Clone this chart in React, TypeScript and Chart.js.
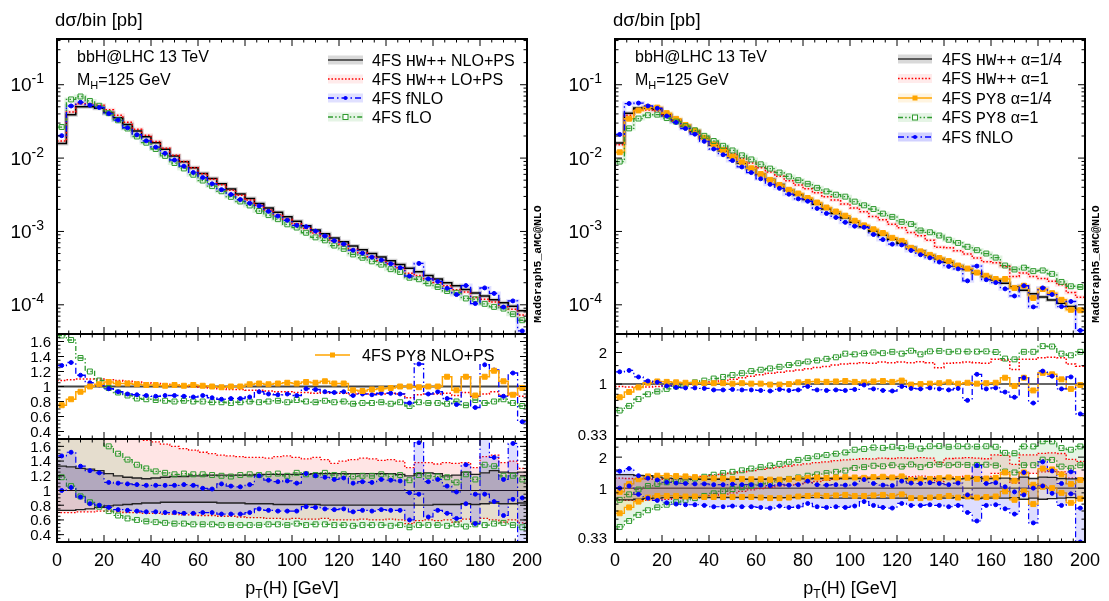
import React, { useEffect, useRef } from "react";
import { Chart, registerables } from "chart.js";
Chart.register(...registerables);

const W = 1109;
const H = 601;
const SANS = '"Liberation Sans", Arial, Helvetica, sans-serif';
const MONO = '"Liberation Mono", "DejaVu Sans Mono", monospace';

// ---------------- categories ----------------
const binLow = [
  0, 4, 8, 12, 16, 20, 24, 28, 32, 36,
  40, 44, 48, 52, 56, 60, 64, 68, 72, 76,
  80, 84, 88, 92, 96, 100, 104, 108, 112, 116,
  120, 124, 128, 132, 136, 140, 144, 148, 152, 156,
  160, 164, 168, 172, 176, 180, 184, 188, 192, 196,
];
const X_MAX = 200;
const xMajorTicks = [0, 20, 40, 60, 80, 100, 120, 140, 160, 180, 200];

// ---------------- left main (dσ/bin [pb]) ----------------
const hwNlo = [
  1.58e-2, 3.89e-2, 5.01e-2, 5.01e-2, 4.79e-2, 4.17e-2, 3.55e-2, 2.88e-2, 2.34e-2, 1.95e-2,
  1.62e-2, 1.32e-2, 1.07e-2, 8.91e-3, 7.41e-3, 6.17e-3, 5.25e-3, 4.47e-3, 3.80e-3, 3.24e-3,
  2.82e-3, 2.40e-3, 2.09e-3, 1.82e-3, 1.58e-3, 1.38e-3, 1.20e-3, 1.05e-3, 9.33e-4, 8.13e-4,
  7.24e-4, 6.31e-4, 5.62e-4, 5.01e-4, 4.47e-4, 3.98e-4, 3.55e-4, 3.16e-4, 2.82e-4, 2.51e-4,
  2.24e-4, 2.00e-4, 1.82e-4, 1.62e-4, 1.45e-4, 1.32e-4, 1.17e-4, 1.07e-4, 9.55e-5, 8.32e-5,
];
const hwLo = [
  1.71e-2, 4.24e-2, 5.51e-2, 5.51e-2, 5.27e-2, 4.55e-2, 3.83e-2, 3.08e-2, 2.48e-2, 2.05e-2,
  1.68e-2, 1.36e-2, 1.09e-2, 9.00e-3, 7.41e-3, 6.11e-3, 5.15e-3, 4.34e-3, 3.65e-3, 3.11e-3,
  2.68e-3, 2.28e-3, 1.96e-3, 1.69e-3, 1.47e-3, 1.27e-3, 1.10e-3, 9.56e-4, 8.58e-4, 7.40e-4,
  6.59e-4, 5.68e-4, 5.11e-4, 4.51e-4, 4.02e-4, 3.62e-4, 3.20e-4, 2.69e-4, 2.51e-4, 2.26e-4,
  2.02e-4, 1.82e-4, 1.60e-4, 1.49e-4, 1.26e-4, 1.19e-4, 1.09e-4, 9.42e-5, 8.69e-5, 7.24e-5,
];
const fNloL = [
  2.02e-2, 5.13e-2, 5.76e-2, 5.26e-2, 4.89e-2, 4.04e-2, 3.30e-2, 2.59e-2, 2.08e-2, 1.72e-2,
  1.41e-2, 1.16e-2, 9.42e-3, 7.75e-3, 6.37e-3, 5.43e-3, 4.46e-3, 3.71e-3, 3.19e-3, 2.72e-3,
  2.43e-3, 2.23e-3, 1.88e-3, 1.62e-3, 1.42e-3, 1.21e-3, 1.16e-3, 1.01e-3, 8.68e-4, 7.48e-4,
  6.73e-4, 5.55e-4, 5.06e-4, 4.46e-4, 4.07e-4, 3.62e-4, 3.20e-4, 2.46e-4, 3.67e-4, 2.26e-4,
  2.08e-4, 1.68e-4, 1.38e-4, 1.83e-4, 1.04e-4, 1.70e-4, 1.43e-4, 9.31e-5, 1.13e-4, 4.41e-5,
];
const fLoL = [
  2.65e-2, 6.30e-2, 6.91e-2, 6.01e-2, 5.17e-2, 4.09e-2, 3.27e-2, 2.53e-2, 1.97e-2, 1.62e-2,
  1.33e-2, 1.07e-2, 8.56e-3, 7.22e-3, 5.93e-3, 4.94e-3, 4.15e-3, 3.53e-3, 2.96e-3, 2.56e-3,
  2.26e-3, 1.90e-3, 1.67e-3, 1.47e-3, 1.25e-3, 1.13e-3, 9.60e-4, 8.30e-4, 7.56e-4, 6.42e-4,
  5.79e-4, 4.86e-4, 4.38e-4, 3.91e-4, 3.53e-4, 3.06e-4, 2.80e-4, 2.34e-4, 2.23e-4, 1.96e-4,
  1.75e-4, 1.54e-4, 1.46e-4, 1.22e-4, 1.19e-4, 1.03e-4, 9.36e-5, 8.88e-5, 7.45e-5, 6.16e-5,
];

// ---------------- left ratio 1 (to HW++ NLO+PS) ----------------
const lr1HwLo = [
  1.08, 1.09, 1.10, 1.10, 1.10, 1.09, 1.08, 1.07, 1.06, 1.05,
  1.04, 1.03, 1.02, 1.01, 1.00, 0.99, 0.98, 0.97, 0.96, 0.96,
  0.95, 0.95, 0.94, 0.93, 0.93, 0.92, 0.92, 0.91, 0.92, 0.91,
  0.91, 0.90, 0.91, 0.90, 0.90, 0.91, 0.90, 0.85, 0.89, 0.90,
  0.90, 0.91, 0.88, 0.92, 0.87, 0.90, 0.93, 0.88, 0.91, 0.87,
];
const lr1FNlo = [
  1.28, 1.32, 1.15, 1.05, 1.02, 0.97, 0.93, 0.90, 0.89, 0.88,
  0.87, 0.88, 0.88, 0.87, 0.86, 0.88, 0.85, 0.83, 0.84, 0.84,
  0.86, 0.93, 0.90, 0.89, 0.90, 0.88, 0.97, 0.96, 0.93, 0.92,
  0.93, 0.88, 0.90, 0.89, 0.91, 0.91, 0.90, 0.78, 1.30, 0.90,
  0.93, 0.84, 0.76, 1.13, 0.72, 1.29, 1.22, 0.87, 1.18, 0.53,
];
const lr1FLo = [
  1.68, 1.62, 1.38, 1.20, 1.08, 0.98, 0.92, 0.88, 0.84, 0.83,
  0.82, 0.81, 0.80, 0.81, 0.80, 0.80, 0.79, 0.79, 0.78, 0.79,
  0.80, 0.79, 0.80, 0.81, 0.79, 0.82, 0.80, 0.79, 0.81, 0.79,
  0.80, 0.77, 0.78, 0.78, 0.79, 0.77, 0.79, 0.74, 0.79, 0.78,
  0.78, 0.77, 0.80, 0.75, 0.82, 0.78, 0.80, 0.83, 0.78, 0.74,
];
const lr1Py8 = [
  0.75, 0.83, 0.93, 1.00, 1.03, 1.06, 1.04, 1.04, 1.03, 1.02,
  1.02, 1.01, 1.02, 1.01, 1.02, 1.01, 1.00, 0.99, 1.00, 1.00,
  1.03, 1.04, 1.03, 1.04, 1.05, 1.04, 1.06, 1.05, 1.07, 1.04,
  1.04, 0.95, 0.94, 0.96, 0.97, 0.98, 1.00, 1.00, 0.99, 1.00,
  1.00, 1.13, 0.95, 1.13, 0.88, 1.13, 1.21, 1.07, 0.89, 0.98,
];

// ---------------- left ratio 2 (uncertainty bands) ----------------
const lr2HwNloUp = [
  1.33, 1.32, 1.30, 1.29, 1.27, 1.23, 1.20, 1.18, 1.17, 1.16,
  1.17, 1.18, 1.19, 1.19, 1.20, 1.20, 1.21, 1.21, 1.21, 1.21,
  1.21, 1.22, 1.22, 1.22, 1.22, 1.22, 1.22, 1.23, 1.23, 1.23,
  1.23, 1.23, 1.23, 1.23, 1.23, 1.23, 1.22, 1.20, 1.23, 1.24,
  1.23, 1.20, 1.21, 1.25, 1.22, 1.24, 1.27, 1.25, 1.24, 1.25,
];
const lr2HwNloDn = [
  0.73, 0.73, 0.74, 0.75, 0.77, 0.79, 0.80, 0.81, 0.82, 0.83,
  0.83, 0.84, 0.84, 0.84, 0.84, 0.84, 0.84, 0.83, 0.83, 0.83,
  0.82, 0.82, 0.82, 0.81, 0.81, 0.81, 0.81, 0.81, 0.80, 0.80,
  0.80, 0.80, 0.80, 0.80, 0.80, 0.80, 0.80, 0.80, 0.80, 0.80,
  0.81, 0.81, 0.81, 0.82, 0.81, 0.82, 0.83, 0.82, 0.82, 0.83,
];
const lr2HwLoUp = [
  1.90, 1.90, 1.90, 1.85, 1.82, 1.80, 1.77, 1.75, 1.72, 1.68,
  1.66, 1.63, 1.60, 1.57, 1.55, 1.52, 1.50, 1.48, 1.47, 1.46,
  1.45, 1.45, 1.44, 1.46, 1.47, 1.45, 1.43, 1.45, 1.42, 1.37,
  1.40, 1.42, 1.44, 1.43, 1.41, 1.42, 1.40, 1.31, 1.38, 1.38,
  1.36, 1.38, 1.37, 1.38, 1.31, 1.46, 1.48, 1.38, 1.40, 1.30,
];
const lr2HwLoDn = [
  0.70, 0.70, 0.71, 0.71, 0.72, 0.72, 0.71, 0.70, 0.70, 0.69,
  0.69, 0.68, 0.68, 0.67, 0.67, 0.66, 0.66, 0.65, 0.65, 0.64,
  0.63, 0.63, 0.62, 0.62, 0.61, 0.62, 0.61, 0.61, 0.62, 0.60,
  0.60, 0.60, 0.61, 0.60, 0.60, 0.61, 0.60, 0.55, 0.59, 0.60,
  0.59, 0.60, 0.57, 0.61, 0.55, 0.62, 0.60, 0.57, 0.60, 0.56,
];
const lr2FNloUp = [
  1.47, 1.52, 1.33, 1.27, 1.24, 1.11, 1.10, 1.09, 1.08, 1.07,
  1.07, 1.07, 1.07, 1.08, 1.07, 1.03, 1.02, 1.09, 1.06, 1.05,
  1.08, 1.20, 1.14, 1.12, 1.13, 1.10, 1.23, 1.20, 1.18, 1.15,
  1.17, 1.10, 1.12, 1.11, 1.15, 1.14, 1.13, 0.97, 1.65, 1.12,
  1.15, 1.06, 0.98, 1.35, 0.95, 1.75, 1.45, 1.15, 1.64, 0.90,
];
const lr2FNloDn = [
  1.00, 1.04, 0.91, 0.82, 0.80, 0.77, 0.74, 0.73, 0.72, 0.71,
  0.71, 0.70, 0.70, 0.69, 0.69, 0.70, 0.70, 0.68, 0.68, 0.68,
  0.70, 0.75, 0.73, 0.72, 0.72, 0.72, 0.78, 0.77, 0.75, 0.74,
  0.75, 0.71, 0.73, 0.72, 0.74, 0.73, 0.73, 0.60, 0.95, 0.64,
  0.73, 0.69, 0.62, 0.82, 0.55, 0.95, 0.85, 0.66, 0.88, 0.25,
];
const lr2FLoUp = [
  2.40, 2.30, 2.00, 1.85, 1.75, 1.60, 1.50, 1.42, 1.35, 1.30,
  1.26, 1.24, 1.22, 1.23, 1.22, 1.22, 1.21, 1.20, 1.19, 1.21,
  1.22, 1.21, 1.22, 1.23, 1.20, 1.24, 1.22, 1.21, 1.24, 1.21,
  1.22, 1.19, 1.20, 1.20, 1.22, 1.19, 1.21, 1.14, 1.21, 1.20,
  1.19, 1.18, 1.11, 1.22, 1.15, 1.35, 1.33, 1.20, 1.20, 1.15,
];
const lr2FLoDn = [
  1.18, 1.06, 0.92, 0.84, 0.78, 0.72, 0.66, 0.62, 0.60, 0.58,
  0.57, 0.56, 0.55, 0.55, 0.54, 0.54, 0.54, 0.53, 0.53, 0.53,
  0.53, 0.53, 0.54, 0.54, 0.53, 0.55, 0.53, 0.54, 0.54, 0.53,
  0.53, 0.52, 0.53, 0.53, 0.53, 0.52, 0.53, 0.50, 0.53, 0.53,
  0.53, 0.52, 0.54, 0.51, 0.54, 0.53, 0.55, 0.56, 0.53, 0.50,
];

// ---------------- right main ----------------
const hwA14 = [
  1.60e-2, 4.10e-2, 4.80e-2, 4.80e-2, 4.60e-2, 3.90e-2, 3.30e-2, 2.75e-2, 2.30e-2, 1.86e-2,
  1.51e-2, 1.26e-2, 1.04e-2, 8.60e-3, 7.20e-3, 6.00e-3, 5.10e-3, 4.35e-3, 3.70e-3, 3.16e-3,
  2.72e-3, 2.34e-3, 2.02e-3, 1.76e-3, 1.53e-3, 1.33e-3, 1.16e-3, 1.01e-3, 8.90e-4, 7.80e-4,
  6.90e-4, 6.05e-4, 5.35e-4, 4.75e-4, 4.25e-4, 3.80e-4, 3.40e-4, 3.03e-4, 2.72e-4, 2.44e-4,
  2.18e-4, 1.96e-4, 1.76e-4, 1.58e-4, 1.42e-4, 1.28e-4, 1.16e-4, 1.05e-4, 9.50e-5, 8.60e-5,
];
const hwA1 = [
  1.52e-2, 3.85e-2, 4.51e-2, 4.51e-2, 4.37e-2, 3.74e-2, 3.20e-2, 2.72e-2, 2.32e-2, 1.92e-2,
  1.59e-2, 1.36e-2, 1.15e-2, 9.89e-3, 8.57e-3, 7.38e-3, 6.48e-3, 5.66e-3, 4.92e-3, 4.30e-3,
  3.81e-3, 3.37e-3, 2.97e-3, 2.68e-3, 2.37e-3, 2.09e-3, 1.86e-3, 1.60e-3, 1.44e-3, 1.25e-3,
  1.12e-3, 9.68e-4, 8.72e-4, 7.60e-4, 6.08e-4, 6.00e-4, 5.44e-4, 4.91e-4, 4.35e-4, 3.86e-4,
  3.75e-4, 3.33e-4, 2.43e-4, 2.72e-4, 2.44e-4, 2.28e-4, 2.09e-4, 1.87e-4, 1.47e-4, 1.27e-4,
];
const py8A14 = [
  1.20e-2, 3.44e-2, 4.46e-2, 4.94e-2, 4.88e-2, 4.10e-2, 3.43e-2, 2.83e-2, 2.37e-2, 1.90e-2,
  1.54e-2, 1.29e-2, 1.05e-2, 8.77e-3, 7.27e-3, 6.06e-3, 5.05e-3, 4.31e-3, 3.70e-3, 3.29e-3,
  2.86e-3, 2.48e-3, 2.12e-3, 1.87e-3, 1.64e-3, 1.40e-3, 1.21e-3, 1.07e-3, 9.52e-4, 8.19e-4,
  7.45e-4, 5.99e-4, 5.35e-4, 4.80e-4, 4.34e-4, 3.95e-4, 3.43e-4, 3.12e-4, 2.75e-4, 2.49e-4,
  2.25e-4, 2.25e-4, 1.69e-4, 1.82e-4, 1.24e-4, 1.64e-4, 1.44e-4, 1.17e-4, 8.55e-5, 8.43e-5,
];
const py8A1 = [
  8.96e-3, 2.54e-2, 3.46e-2, 3.84e-2, 3.91e-2, 3.51e-2, 3.14e-2, 2.72e-2, 2.39e-2, 2.01e-2,
  1.71e-2, 1.47e-2, 1.27e-2, 1.09e-2, 9.58e-3, 8.22e-3, 7.19e-3, 6.35e-3, 5.62e-3, 4.99e-3,
  4.46e-3, 3.93e-3, 3.51e-3, 3.17e-3, 2.98e-3, 2.55e-3, 2.27e-3, 2.02e-3, 1.75e-3, 1.58e-3,
  1.35e-3, 1.26e-3, 1.03e-3, 9.74e-4, 8.80e-4, 7.71e-4, 6.97e-4, 6.18e-4, 5.55e-4, 5.00e-4,
  4.40e-4, 3.43e-4, 3.03e-4, 3.21e-4, 2.88e-4, 2.94e-4, 2.64e-4, 2.05e-4, 1.79e-4, 1.75e-4,
];
const fNloR = [
  2.10e-2, 5.54e-2, 5.62e-2, 5.14e-2, 4.78e-2, 3.74e-2, 3.07e-2, 2.53e-2, 2.12e-2, 1.69e-2,
  1.33e-2, 1.11e-2, 9.26e-3, 7.57e-3, 6.34e-3, 5.22e-3, 4.39e-3, 3.87e-3, 3.22e-3, 2.78e-3,
  2.58e-3, 2.06e-3, 1.76e-3, 1.55e-3, 1.33e-3, 1.18e-3, 1.14e-3, 9.09e-4, 7.74e-4, 6.71e-4,
  6.56e-4, 5.51e-4, 4.82e-4, 4.37e-4, 3.83e-4, 3.34e-4, 3.09e-4, 2.12e-4, 3.37e-4, 2.20e-4,
  2.01e-4, 1.65e-4, 1.32e-4, 1.82e-4, 9.37e-5, 1.70e-4, 1.38e-4, 9.45e-5, 1.11e-4, 4.47e-5,
];

// ---------------- right ratio 1 (to HW++ α=1/4) ----------------
const rr1HwA1 = [
  0.95, 0.94, 0.94, 0.94, 0.95, 0.96, 0.97, 0.99, 1.01, 1.03,
  1.05, 1.08, 1.11, 1.15, 1.19, 1.23, 1.27, 1.30, 1.33, 1.36,
  1.40, 1.44, 1.47, 1.52, 1.55, 1.57, 1.60, 1.58, 1.62, 1.60,
  1.62, 1.60, 1.63, 1.60, 1.43, 1.58, 1.60, 1.62, 1.60, 1.58,
  1.72, 1.70, 1.38, 1.72, 1.72, 1.78, 1.80, 1.78, 1.55, 1.48,
];
const rr1Py8A14 = [
  0.75, 0.84, 0.93, 1.03, 1.06, 1.05, 1.04, 1.03, 1.03, 1.02,
  1.02, 1.02, 1.01, 1.02, 1.01, 1.01, 0.99, 0.99, 1.00, 1.04,
  1.05, 1.06, 1.05, 1.06, 1.07, 1.05, 1.04, 1.06, 1.07, 1.05,
  1.08, 0.99, 1.00, 1.01, 1.02, 1.04, 1.01, 1.03, 1.01, 1.02,
  1.03, 1.15, 0.96, 1.15, 0.87, 1.28, 1.24, 1.11, 0.90, 0.98,
];
const rr1Py8A1 = [
  0.56, 0.62, 0.72, 0.80, 0.85, 0.90, 0.95, 0.99, 1.04, 1.08,
  1.13, 1.17, 1.22, 1.27, 1.33, 1.37, 1.41, 1.46, 1.52, 1.58,
  1.64, 1.68, 1.74, 1.80, 1.95, 1.92, 1.96, 2.00, 1.97, 2.03,
  1.95, 2.08, 1.92, 2.05, 2.07, 2.03, 2.05, 2.04, 2.04, 2.05,
  2.02, 1.75, 1.72, 2.03, 2.03, 2.30, 2.28, 1.95, 1.88, 2.03,
];
const rr1FNlo = [
  1.31, 1.35, 1.17, 1.07, 1.04, 0.96, 0.93, 0.92, 0.92, 0.91,
  0.88, 0.88, 0.89, 0.88, 0.88, 0.87, 0.86, 0.89, 0.87, 0.88,
  0.95, 0.88, 0.87, 0.88, 0.87, 0.89, 0.98, 0.90, 0.87, 0.86,
  0.95, 0.91, 0.90, 0.92, 0.90, 0.88, 0.91, 0.70, 1.24, 0.90,
  0.92, 0.84, 0.75, 1.15, 0.66, 1.33, 1.19, 0.90, 1.17, 0.52,
];

// ---------------- right ratio 2 (uncertainty bands) ----------------
const rr2HwA14Up = [
  1.35, 1.35, 1.33, 1.32, 1.28, 1.25, 1.24, 1.23, 1.22, 1.22,
  1.22, 1.22, 1.22, 1.22, 1.22, 1.22, 1.23, 1.23, 1.23, 1.23,
  1.23, 1.24, 1.24, 1.24, 1.24, 1.24, 1.24, 1.24, 1.24, 1.24,
  1.24, 1.24, 1.24, 1.24, 1.24, 1.24, 1.23, 1.24, 1.27, 1.24,
  1.24, 1.25, 1.23, 1.28, 1.24, 1.28, 1.27, 1.24, 1.23, 1.24,
];
const rr2HwA14Dn = [
  0.77, 0.77, 0.78, 0.79, 0.80, 0.81, 0.81, 0.81, 0.81, 0.81,
  0.81, 0.81, 0.81, 0.81, 0.81, 0.81, 0.81, 0.81, 0.81, 0.81,
  0.81, 0.81, 0.80, 0.80, 0.80, 0.80, 0.80, 0.80, 0.80, 0.80,
  0.80, 0.80, 0.80, 0.80, 0.80, 0.80, 0.81, 0.80, 0.79, 0.80,
  0.80, 0.80, 0.81, 0.78, 0.80, 0.78, 0.79, 0.80, 0.81, 0.80,
];
const rr2HwA1Up = [
  1.25, 1.24, 1.23, 1.22, 1.22, 1.22, 1.23, 1.25, 1.28, 1.30,
  1.33, 1.36, 1.40, 1.44, 1.48, 1.52, 1.56, 1.60, 1.64, 1.68,
  1.72, 1.77, 1.80, 1.85, 1.88, 1.90, 1.93, 1.92, 1.96, 1.94,
  1.97, 1.95, 1.98, 1.96, 1.78, 1.94, 1.96, 1.98, 1.96, 1.93,
  2.10, 2.08, 1.70, 2.10, 2.10, 2.18, 2.20, 2.17, 1.90, 1.82,
];
const rr2HwA1Dn = [
  0.77, 0.76, 0.76, 0.76, 0.77, 0.78, 0.79, 0.80, 0.82, 0.83,
  0.85, 0.87, 0.90, 0.93, 0.96, 0.99, 1.02, 1.05, 1.07, 1.10,
  1.13, 1.16, 1.19, 1.22, 1.24, 1.26, 1.28, 1.27, 1.30, 1.29,
  1.30, 1.29, 1.31, 1.29, 1.16, 1.28, 1.29, 1.31, 1.29, 1.28,
  1.39, 1.37, 1.12, 1.39, 1.39, 1.44, 1.45, 1.44, 1.25, 1.20,
];
const rr2Py8A14Up = [
  0.92, 1.10, 1.22, 1.30, 1.32, 1.32, 1.31, 1.30, 1.28, 1.25,
  1.24, 1.24, 1.23, 1.23, 1.22, 1.22, 1.21, 1.21, 1.22, 1.25,
  1.26, 1.27, 1.26, 1.27, 1.28, 1.27, 1.26, 1.28, 1.29, 1.27,
  1.30, 1.20, 1.22, 1.23, 1.25, 1.27, 1.23, 1.26, 1.23, 1.24,
  1.26, 1.42, 1.18, 1.42, 1.08, 1.55, 1.52, 1.36, 1.10, 1.20,
];
const rr2Py8A14Dn = [
  0.57, 0.65, 0.74, 0.81, 0.84, 0.84, 0.84, 0.83, 0.83, 0.82,
  0.82, 0.82, 0.82, 0.82, 0.82, 0.81, 0.80, 0.80, 0.81, 0.83,
  0.84, 0.85, 0.84, 0.85, 0.86, 0.84, 0.84, 0.85, 0.86, 0.84,
  0.87, 0.80, 0.80, 0.81, 0.82, 0.84, 0.81, 0.83, 0.81, 0.82,
  0.83, 0.93, 0.77, 0.93, 0.70, 1.03, 1.00, 0.90, 0.72, 0.79,
];
const rr2Py8A1Up = [
  0.77, 0.87, 0.97, 1.05, 1.10, 1.14, 1.17, 1.20, 1.24, 1.29,
  1.35, 1.40, 1.44, 1.49, 1.55, 1.60, 1.66, 1.72, 1.80, 1.88,
  1.96, 2.04, 2.10, 2.16, 2.22, 2.36, 2.40, 2.48, 2.46, 2.52,
  2.45, 2.55, 2.42, 2.55, 2.56, 2.52, 2.55, 2.54, 2.53, 2.55,
  2.52, 2.20, 2.18, 2.54, 2.54, 2.85, 2.84, 2.45, 2.36, 2.54,
];
const rr2Py8A1Dn = [
  0.42, 0.48, 0.55, 0.61, 0.65, 0.69, 0.73, 0.77, 0.80, 0.84,
  0.89, 0.93, 0.98, 1.02, 1.06, 1.10, 1.14, 1.19, 1.23, 1.27,
  1.32, 1.36, 1.40, 1.44, 1.48, 1.57, 1.60, 1.65, 1.63, 1.67,
  1.62, 1.70, 1.60, 1.68, 1.70, 1.67, 1.69, 1.68, 1.68, 1.69,
  1.66, 1.45, 1.42, 1.67, 1.67, 1.89, 1.88, 1.62, 1.56, 1.67,
];
const rr2FNloUp = [
  1.46, 1.55, 1.32, 1.25, 1.20, 1.14, 1.12, 1.11, 1.10, 1.10,
  1.08, 1.08, 1.09, 1.08, 1.08, 1.07, 1.06, 1.09, 1.07, 1.08,
  1.17, 1.08, 1.07, 1.08, 1.07, 1.10, 1.21, 1.11, 1.07, 1.06,
  1.17, 1.12, 1.11, 1.13, 1.11, 1.08, 1.12, 0.86, 1.66, 1.11,
  1.13, 1.03, 0.92, 1.42, 1.00, 1.80, 1.47, 1.11, 1.44, 0.64,
];
const rr2FNloDn = [
  1.00, 1.05, 0.87, 0.80, 0.76, 0.72, 0.70, 0.69, 0.69, 0.68,
  0.66, 0.66, 0.67, 0.66, 0.66, 0.65, 0.64, 0.67, 0.65, 0.66,
  0.71, 0.66, 0.65, 0.66, 0.65, 0.67, 0.74, 0.68, 0.65, 0.64,
  0.71, 0.68, 0.68, 0.69, 0.68, 0.66, 0.68, 0.58, 0.48, 0.68,
  0.69, 0.63, 0.56, 0.86, 0.46, 1.05, 0.89, 0.68, 0.88, 0.30,
];

// ---------------- styling ----------------
const C_BLACK = "#000000";
const C_RED = "#ff0000";
const C_BLUE = "#0000ff";
const C_GREEN = "#2f9a2f";
const C_ORANGE = "#ffa500";
const D_SOLID: number[] = [];
const D_DOT = [1.6, 1.8];
const D_DASHDOT = [6, 3, 1.5, 3];
const D_DASHDOTDOT = [5, 2.2, 1.5, 2.2, 1.5, 2.2];

const BAND_BLACK = "rgba(70,50,80,0.17)";
const BAND_RED = "rgba(255,0,0,0.10)";
const BAND_BLUE = "rgba(0,0,255,0.13)";
const BAND_GREEN = "rgba(0,150,0,0.10)";
const BAND_ORANGE = "rgba(255,165,0,0.16)";

const LEFT = { x0: 57, x1: 527 };
const RIGHT = { x0: 615, x1: 1085 };
const MAIN_Y = [39, 334];
const R1_Y = [334, 439];
const R2_Y = [439, 542];

const binHigh = binLow.map((v, i) => (i + 1 < binLow.length ? binLow[i + 1] : X_MAX));
const binCenter = binLow.map((v, i) => (v + binHigh[i]) / 2);

const steps = (vals: number[]) => [
  ...binLow.map((x, i) => ({ x, y: vals[i] })),
  { x: X_MAX, y: vals[vals.length - 1] },
];
const centers = (vals: number[]) => binCenter.map((x, i) => ({ x, y: vals[i] }));

function stepLine(vals: number[], color: string, dash: number[], width = 1.5, fillBg?: string): any {
  return {
    data: steps(vals),
    borderColor: color,
    borderDash: dash,
    borderWidth: width,
    pointRadius: 0,
    stepped: "before",
    fill: fillBg ? "+1" : false,
    backgroundColor: fillBg ?? "rgba(0,0,0,0)",
    borderCapStyle: "butt",
  };
}
function markers(vals: number[], color: string, style: string, filled: boolean, r: number): any {
  return {
    data: centers(vals),
    showLine: false,
    pointRadius: r,
    pointStyle: style,
    pointBackgroundColor: filled ? color : "rgba(255,255,255,0)",
    pointBorderColor: color,
    pointBorderWidth: 1,
  };
}
const ordered = (list: any[]) => list.map((d, i) => ({ ...d, order: list.length - i }));

type Seg = [string, string, number?];
function drawSegs(ctx: CanvasRenderingContext2D, x: number, y: number, segs: Seg[]) {
  ctx.textAlign = "left";
  for (const s of segs) {
    ctx.font = s[1];
    ctx.fillText(s[0], x, y + (s[2] ?? 0));
    x += ctx.measureText(s[0]).width;
  }
  return x;
}
function segsWidth(ctx: CanvasRenderingContext2D, segs: Seg[]) {
  let w = 0;
  for (const s of segs) {
    ctx.font = s[1];
    w += ctx.measureText(s[0]).width;
  }
  return w;
}

interface LegendItem {
  segs: Seg[];
  color: string;
  dash: number[];
  band?: string;
  marker?: "circle" | "rect" | "rectOpen";
}
function drawMarker(ctx: CanvasRenderingContext2D, kind: string, x: number, y: number, color: string) {
  ctx.setLineDash([]);
  ctx.lineWidth = 1;
  ctx.strokeStyle = color;
  ctx.fillStyle = color;
  if (kind === "circle") {
    ctx.beginPath();
    ctx.arc(x, y, 2, 0, Math.PI * 2);
    ctx.fill();
  } else if (kind === "rect") {
    ctx.fillRect(x - 2.5, y - 2.5, 5, 5);
  } else if (kind === "rectOpen") {
    ctx.fillStyle = "#fff";
    ctx.fillRect(x - 2.5, y - 2.5, 5, 5);
    ctx.strokeRect(x - 2.5, y - 2.5, 5, 5);
  }
}
function drawLegend(ctx: CanvasRenderingContext2D, sx0: number, sx1: number, tx: number, rows: number[], items: LegendItem[]) {
  items.forEach((it, i) => {
    const y = rows[i];
    if (it.band) {
      ctx.fillStyle = it.band;
      ctx.fillRect(sx0, y - 4.5, sx1 - sx0, 9);
    }
    ctx.strokeStyle = it.color;
    ctx.lineWidth = 1.5;
    ctx.setLineDash(it.dash);
    ctx.beginPath();
    ctx.moveTo(sx0, y);
    ctx.lineTo(sx1, y);
    ctx.stroke();
    ctx.setLineDash([]);
    if (it.marker) drawMarker(ctx, it.marker, (sx0 + sx1) / 2, y, it.color);
    ctx.fillStyle = "#000";
    drawSegs(ctx, tx, y + 5.5, it.segs);
  });
}

interface FrameCfg {
  yMajor: number[];
  yMinor: number[];
  yLabels: { v: number; text: string; sup?: string }[];
  labelSize: number;
  labelGap: number;
  xLabels?: boolean;
  ref?: { width: number; color: string };
  decorate?: (ctx: CanvasRenderingContext2D) => void;
}

function makeFrame(cfg: FrameCfg) {
  return {
    id: "frame",
    beforeDatasetsDraw(chart: any) {
      if (!cfg.ref) return;
      const { ctx, chartArea: a } = chart;
      const py = chart.scales.y.getPixelForValue(1);
      ctx.save();
      ctx.strokeStyle = cfg.ref.color;
      ctx.lineWidth = cfg.ref.width;
      ctx.beginPath();
      ctx.moveTo(a.left, py);
      ctx.lineTo(a.right, py);
      ctx.stroke();
      ctx.restore();
    },
    afterDatasetsDraw(chart: any) {
      const { ctx, chartArea: a } = chart;
      const xs = chart.scales.x;
      const ys = chart.scales.y;
      const inY = (v: number) => v >= ys.min - 1e-9 && v <= ys.max + 1e-9;
      ctx.save();
      ctx.setLineDash([]);
      ctx.strokeStyle = "#000";
      ctx.lineWidth = 1;
      const seg = (x1: number, y1: number, x2: number, y2: number) => {
        ctx.beginPath();
        ctx.moveTo(x1, y1);
        ctx.lineTo(x2, y2);
        ctx.stroke();
      };
      for (let v = 0; v <= X_MAX; v += 5) {
        const px = xs.getPixelForValue(v);
        const len = xMajorTicks.includes(v) ? 7 : 3.5;
        seg(px, a.top, px, a.top + len);
        seg(px, a.bottom, px, a.bottom - len);
      }
      cfg.yMinor.filter(inY).forEach((v) => {
        const py = ys.getPixelForValue(v);
        seg(a.left, py, a.left + 3.5, py);
        seg(a.right, py, a.right - 3.5, py);
      });
      cfg.yMajor.filter(inY).forEach((v) => {
        const py = ys.getPixelForValue(v);
        seg(a.left, py, a.left + 7, py);
        seg(a.right, py, a.right - 7, py);
      });
      ctx.lineWidth = 2;
      ctx.strokeRect(a.left, a.top, a.right - a.left, a.bottom - a.top);

      ctx.fillStyle = "#000";
      ctx.textBaseline = "alphabetic";
      const xr = a.left - cfg.labelGap;
      cfg.yLabels.forEach((l) => {
        const py = ys.getPixelForValue(l.v);
        if (l.sup) {
          const mf = `${cfg.labelSize}px ${SANS}`;
          const sf = `${Math.round(cfg.labelSize * 0.72)}px ${SANS}`;
          ctx.font = sf;
          const ws = ctx.measureText(l.sup).width;
          ctx.font = mf;
          const wm = ctx.measureText(l.text).width;
          ctx.textAlign = "left";
          ctx.fillText(l.text, xr - ws - wm, py + 6.5);
          ctx.font = sf;
          ctx.fillText(l.sup, xr - ws, py - 1.5);
        } else {
          ctx.font = `${cfg.labelSize}px ${SANS}`;
          ctx.textAlign = "right";
          ctx.fillText(l.text, xr, py + cfg.labelSize * 0.36);
        }
      });
      if (cfg.xLabels) {
        ctx.font = `18px ${SANS}`;
        ctx.textAlign = "center";
        xMajorTicks.forEach((v) => {
          ctx.fillText(String(v), xs.getPixelForValue(v), a.bottom + 24);
        });
      }
      if (cfg.decorate) cfg.decorate(ctx);
      ctx.restore();
    },
  };
}

function makeChart(canvas: HTMLCanvasElement, rect: { x0: number; x1: number }, yr: number[], yScale: any, datasets: any[], cfg: FrameCfg) {
  return new Chart(canvas, {
    type: "line",
    data: { datasets },
    options: {
      responsive: false,
      animation: false,
      events: [],
      layout: { padding: { left: rect.x0, right: W - rect.x1, top: yr[0], bottom: H - yr[1] } },
      scales: {
        x: { type: "linear", min: 0, max: X_MAX, display: false },
        y: { ...yScale, display: false },
      },
      plugins: { legend: { display: false }, tooltip: { enabled: false } },
      elements: { line: { tension: 0 } },
    } as any,
    plugins: [makeFrame(cfg) as any],
  });
}

// axis configs
const mainYMajor = [1e-4, 1e-3, 1e-2, 1e-1];
const mainYMinor: number[] = [];
[1e-5, 1e-4, 1e-3, 1e-2, 1e-1].forEach((d) => {
  for (let k = 2; k <= 9; k++) mainYMinor.push(d * k);
});
const mainYLabels = [
  { v: 1e-1, text: "10", sup: "-1" },
  { v: 1e-2, text: "10", sup: "-2" },
  { v: 1e-3, text: "10", sup: "-3" },
  { v: 1e-4, text: "10", sup: "-4" },
];
const linRatioMajor = [0.4, 0.6, 0.8, 1.0, 1.2, 1.4, 1.6];
const linRatioMinor: number[] = [];
for (let i = 6; i <= 34; i++) linRatioMinor.push(i * 0.05);
const linRatioLabels = [
  { v: 0.4, text: "0.4" }, { v: 0.6, text: "0.6" }, { v: 0.8, text: "0.8" },
  { v: 1.0, text: "1" }, { v: 1.2, text: "1.2" }, { v: 1.4, text: "1.4" }, { v: 1.6, text: "1.6" },
];
const logRatioMajor = [1, 2];
const logRatioMinor = [0.4, 0.5, 0.6, 0.7, 0.8, 0.9, 1.5, 2.5, 3];
const logRatioLabels = [
  { v: 2, text: "2" }, { v: 1, text: "1" }, { v: 0.333, text: "0.33" },
];

const F16 = `16px ${SANS}`;
const T17 = `17px ${MONO}`;

function panelDecor(ctx: CanvasRenderingContext2D, rect: { x0: number; x1: number }) {
  ctx.fillStyle = "#000";
  ctx.textAlign = "left";
  ctx.font = `18.5px ${SANS}`;
  ctx.fillText("dσ/bin [pb]", rect.x0 - 2, 26);
  ctx.font = F16;
  ctx.fillText("bbH@LHC 13 TeV", rect.x0 + 20, 62);
  drawSegs(ctx, rect.x0 + 20, 85, [["M", F16], ["H", `11px ${SANS}`, 4], ["=125 GeV", F16]]);
  ctx.save();
  ctx.translate(rect.x1 + 11, 264);
  ctx.rotate(-Math.PI / 2);
  ctx.font = `bold 11.5px ${MONO}`;
  ctx.textAlign = "center";
  ctx.textBaseline = "middle";
  ctx.fillText("MadGraph5_aMC@NLO", 0, 0);
  ctx.restore();
}
function xTitle(ctx: CanvasRenderingContext2D, rect: { x0: number; x1: number }) {
  const segs: Seg[] = [["p", `18px ${SANS}`], ["T", `12px ${SANS}`, 4], ["(H) [GeV]", `18px ${SANS}`]];
  const w = segsWidth(ctx, segs);
  ctx.fillStyle = "#000";
  drawSegs(ctx, (rect.x0 + rect.x1) / 2 - w / 2, 594, segs);
}

function buildAll(cv: HTMLCanvasElement[]) {
  const charts: Chart[] = [];
  // ---- left main ----
  charts.push(
    makeChart(cv[0], LEFT, MAIN_Y, { type: "logarithmic", min: 4e-5, max: 0.42 },
      ordered([
        stepLine(fLoL, "rgba(0,150,0,0.12)", D_SOLID, 4),
        stepLine(fNloL, "rgba(0,0,255,0.12)", D_SOLID, 4),
        stepLine(hwLo, "rgba(255,0,0,0.10)", D_SOLID, 4),
        stepLine(hwNlo, "rgba(0,0,0,0.18)", D_SOLID, 4),
        stepLine(hwNlo, C_BLACK, D_SOLID, 1.5),
        stepLine(hwLo, C_RED, D_DOT, 1.5),
        stepLine(fLoL, C_GREEN, D_DASHDOTDOT, 1.3),
        markers(fLoL, C_GREEN, "rect", false, 3.5),
        stepLine(fNloL, C_BLUE, D_DASHDOT, 1.3),
        markers(fNloL, C_BLUE, "circle", true, 2),
      ]),
      {
        yMajor: mainYMajor, yMinor: mainYMinor, yLabels: mainYLabels, labelSize: 19, labelGap: 13,
        decorate: (ctx) => {
          panelDecor(ctx, LEFT);
          drawLegend(ctx, 328, 363, 372, [60, 79, 98, 117], [
            { segs: [["4FS ", F16], ["HW++", T17], [" NLO+PS", F16]], color: "#333", dash: D_SOLID, band: "rgba(0,0,0,0.15)" },
            { segs: [["4FS ", F16], ["HW++", T17], [" LO+PS", F16]], color: C_RED, dash: D_DOT, band: "rgba(255,0,0,0.08)" },
            { segs: [["4FS fNLO", F16]], color: C_BLUE, dash: D_DASHDOT, band: "rgba(0,0,255,0.12)", marker: "circle" },
            { segs: [["4FS fLO", F16]], color: C_GREEN, dash: D_DASHDOTDOT, band: "rgba(0,150,0,0.10)", marker: "rectOpen" },
          ]);
        },
      })
  );
  // ---- left ratio 1 ----
  charts.push(
    makeChart(cv[1], LEFT, R1_Y, { type: "linear", min: 0.3, max: 1.7 },
      ordered([
        stepLine(lr1HwLo, C_RED, D_DOT, 1.5),
        stepLine(lr1FLo, C_GREEN, D_DASHDOTDOT, 1.3),
        markers(lr1FLo, C_GREEN, "rect", false, 3.5),
        stepLine(lr1FNlo, C_BLUE, D_DASHDOT, 1.3),
        markers(lr1FNlo, C_BLUE, "circle", true, 2),
        stepLine(lr1Py8, C_ORANGE, D_SOLID, 1.5),
        markers(lr1Py8, C_ORANGE, "rect", true, 3.5),
      ]),
      {
        yMajor: linRatioMajor, yMinor: linRatioMinor, yLabels: linRatioLabels, labelSize: 15, labelGap: 6,
        ref: { width: 2, color: "#444" },
        decorate: (ctx) => {
          drawLegend(ctx, 315, 350, 362, [355], [
            { segs: [["4FS ", F16], ["PY8", T17], [" NLO+PS", F16]], color: C_ORANGE, dash: D_SOLID, marker: "rect" },
          ]);
        },
      })
  );
  // ---- left ratio 2 ----
  charts.push(
    makeChart(cv[2], LEFT, R2_Y, { type: "linear", min: 0.3, max: 1.7 },
      ordered([
        stepLine(lr2HwLoUp, C_RED, D_DOT, 1.3, BAND_RED),
        stepLine(lr2HwLoDn, C_RED, D_DOT, 1.3),
        stepLine(lr2FLoUp, C_GREEN, D_DASHDOTDOT, 1.2, BAND_GREEN),
        stepLine(lr2FLoDn, C_GREEN, D_DASHDOTDOT, 1.2),
        stepLine(lr2FNloUp, C_BLUE, D_DASHDOT, 1.2, BAND_BLUE),
        stepLine(lr2FNloDn, C_BLUE, D_DASHDOT, 1.2),
        stepLine(lr2HwNloUp, "#222", D_SOLID, 1.3, BAND_BLACK),
        stepLine(lr2HwNloDn, "#222", D_SOLID, 1.3),
        markers(lr2FLoUp, C_GREEN, "rect", false, 3.5),
        markers(lr2FLoDn, C_GREEN, "rect", false, 3.5),
        markers(lr2FNloUp, C_BLUE, "circle", true, 2),
        markers(lr2FNloDn, C_BLUE, "circle", true, 2),
      ]),
      {
        yMajor: linRatioMajor, yMinor: linRatioMinor, yLabels: linRatioLabels, labelSize: 15, labelGap: 6,
        xLabels: true, ref: { width: 1, color: "#000" },
        decorate: (ctx) => xTitle(ctx, LEFT),
      })
  );
  // ---- right main ----
  charts.push(
    makeChart(cv[3], RIGHT, MAIN_Y, { type: "logarithmic", min: 4e-5, max: 0.42 },
      ordered([
        stepLine(py8A1, "rgba(0,150,0,0.12)", D_SOLID, 4),
        stepLine(hwA1, "rgba(255,0,0,0.10)", D_SOLID, 4),
        stepLine(fNloR, "rgba(0,0,255,0.12)", D_SOLID, 4),
        stepLine(py8A14, "rgba(255,165,0,0.18)", D_SOLID, 4),
        stepLine(hwA14, "rgba(0,0,0,0.18)", D_SOLID, 4),
        stepLine(hwA14, C_BLACK, D_SOLID, 1.5),
        stepLine(hwA1, C_RED, D_DOT, 1.5),
        stepLine(py8A14, C_ORANGE, D_SOLID, 1.5),
        markers(py8A14, C_ORANGE, "rect", true, 3.5),
        stepLine(py8A1, C_GREEN, D_DASHDOTDOT, 1.3),
        markers(py8A1, C_GREEN, "rect", false, 3.5),
        stepLine(fNloR, C_BLUE, D_DASHDOT, 1.3),
        markers(fNloR, C_BLUE, "circle", true, 2),
      ]),
      {
        yMajor: mainYMajor, yMinor: mainYMinor, yLabels: mainYLabels, labelSize: 19, labelGap: 13,
        decorate: (ctx) => {
          panelDecor(ctx, RIGHT);
          drawLegend(ctx, 898, 932, 942, [59, 78.5, 98, 117.5, 137], [
            { segs: [["4FS ", F16], ["HW++", T17], [" α=1/4", F16]], color: "#333", dash: D_SOLID, band: "rgba(0,0,0,0.15)" },
            { segs: [["4FS ", F16], ["HW++", T17], [" α=1", F16]], color: C_RED, dash: D_DOT, band: "rgba(255,0,0,0.08)" },
            { segs: [["4FS ", F16], ["PY8", T17], [" α=1/4", F16]], color: C_ORANGE, dash: D_SOLID, band: "rgba(255,165,0,0.12)", marker: "rect" },
            { segs: [["4FS ", F16], ["PY8", T17], [" α=1", F16]], color: C_GREEN, dash: D_DASHDOTDOT, band: "rgba(0,150,0,0.10)", marker: "rectOpen" },
            { segs: [["4FS fNLO", F16]], color: C_BLUE, dash: D_DASHDOT, band: "rgba(0,0,255,0.18)", marker: "circle" },
          ]);
        },
      })
  );
  // ---- right ratio 1 ----
  charts.push(
    makeChart(cv[4], RIGHT, R1_Y, { type: "logarithmic", min: 0.333, max: 3 },
      ordered([
        stepLine(rr1HwA1, C_RED, D_DOT, 1.5),
        stepLine(rr1Py8A1, C_GREEN, D_DASHDOTDOT, 1.3),
        markers(rr1Py8A1, C_GREEN, "rect", false, 3.5),
        stepLine(rr1Py8A14, C_ORANGE, D_SOLID, 1.5),
        markers(rr1Py8A14, C_ORANGE, "rect", true, 3.5),
        stepLine(rr1FNlo, C_BLUE, D_DASHDOT, 1.3),
        markers(rr1FNlo, C_BLUE, "circle", true, 2),
      ]),
      {
        yMajor: logRatioMajor, yMinor: logRatioMinor, yLabels: logRatioLabels, labelSize: 15, labelGap: 8,
        ref: { width: 1.5, color: "#333" },
      })
  );
  // ---- right ratio 2 ----
  charts.push(
    makeChart(cv[5], RIGHT, R2_Y, { type: "logarithmic", min: 0.333, max: 3 },
      ordered([
        stepLine(rr2Py8A1Up, C_GREEN, D_DASHDOTDOT, 1.2, BAND_GREEN),
        stepLine(rr2Py8A1Dn, C_GREEN, D_DASHDOTDOT, 1.2),
        stepLine(rr2HwA1Up, C_RED, D_DOT, 1.3, BAND_RED),
        stepLine(rr2HwA1Dn, C_RED, D_DOT, 1.3),
        stepLine(rr2FNloUp, C_BLUE, D_DASHDOT, 1.2, BAND_BLUE),
        stepLine(rr2FNloDn, C_BLUE, D_DASHDOT, 1.2),
        stepLine(rr2Py8A14Up, C_ORANGE, D_SOLID, 1.3, BAND_ORANGE),
        stepLine(rr2Py8A14Dn, C_ORANGE, D_SOLID, 1.3),
        stepLine(rr2HwA14Up, "#222", D_SOLID, 1.3, BAND_BLACK),
        stepLine(rr2HwA14Dn, "#222", D_SOLID, 1.3),
        markers(rr2Py8A1Up, C_GREEN, "rect", false, 3.5),
        markers(rr2Py8A1Dn, C_GREEN, "rect", false, 3.5),
        markers(rr2Py8A14Up, C_ORANGE, "rect", true, 3.5),
        markers(rr2Py8A14Dn, C_ORANGE, "rect", true, 3.5),
        markers(rr2FNloUp, C_BLUE, "circle", true, 2),
        markers(rr2FNloDn, C_BLUE, "circle", true, 2),
      ]),
      {
        yMajor: logRatioMajor, yMinor: logRatioMinor, yLabels: logRatioLabels, labelSize: 15, labelGap: 8,
        xLabels: true, ref: { width: 1, color: "#000" },
        decorate: (ctx) => xTitle(ctx, RIGHT),
      })
  );
  return charts;
}

export default function App() {
  const canvases = useRef<(HTMLCanvasElement | null)[]>([]);
  useEffect(() => {
    const cv = canvases.current as HTMLCanvasElement[];
    const charts = buildAll(cv);
    return () => charts.forEach((c) => c.destroy());
  }, []);
  return (
    <div style={{ position: "fixed", left: 0, top: 0, width: W, height: H, background: "#fff", overflow: "hidden" }}>
      {[0, 1, 2, 3, 4, 5].map((i) => (
        <canvas
          key={i}
          ref={(el) => {
            canvases.current[i] = el;
          }}
          width={W}
          height={H}
          style={{ position: "absolute", left: 0, top: 0, width: W, height: H }}
        />
      ))}
    </div>
  );
}
